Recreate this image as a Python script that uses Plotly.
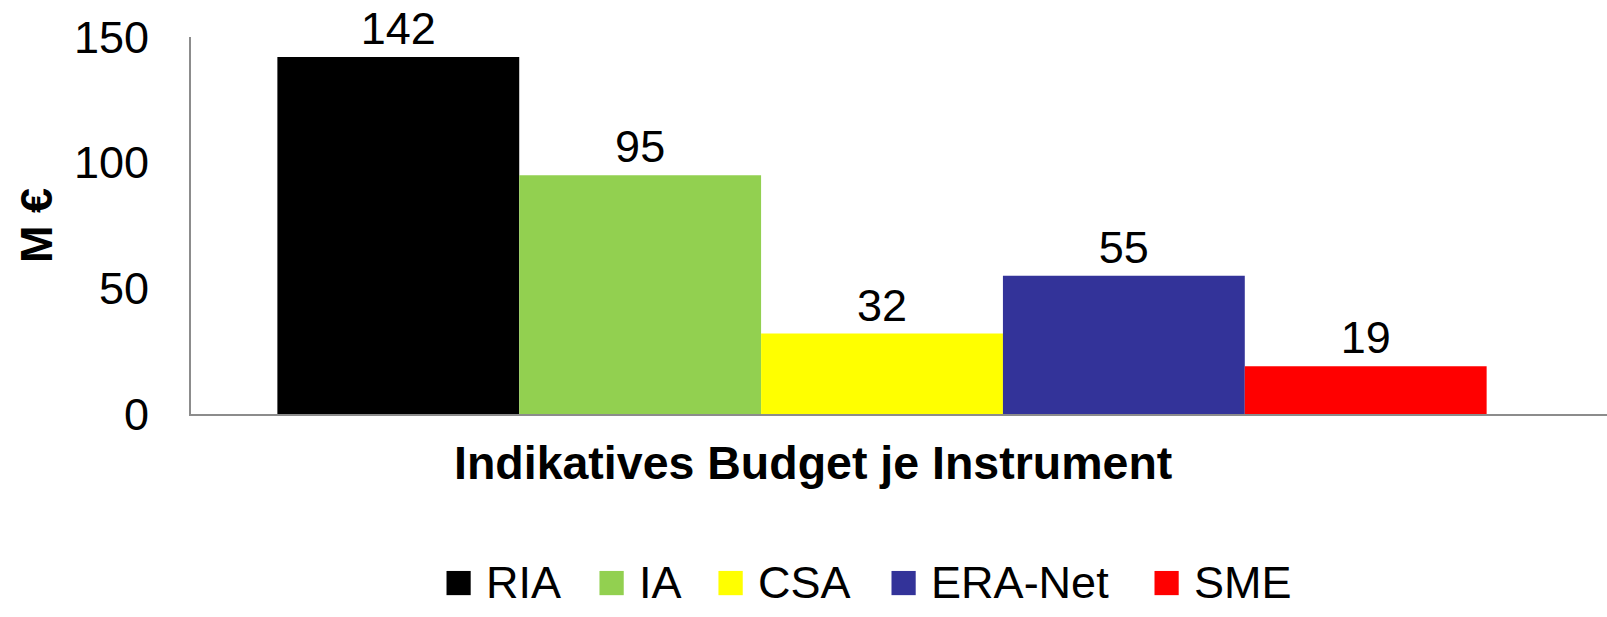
import plotly.graph_objects as go

instruments = ["RIA", "IA", "CSA", "ERA-Net", "SME"]
budgets = [142, 95, 32, 55, 19]
colors = ["#000000", "#92D050", "#FFFF00", "#333399", "#FF0000"]
category = ["Budget"]
x_title = "Indikatives Budget je Instrument"
y_title = "M €"
y_ticks = [0, 50, 100, 150]

FONT = "Liberation Sans, Arial, sans-serif"
FS = 45
# pixel width of each legend entry (layout styling)
legend_entry_px = [108, 74, 128, 218, 140]

fig = go.Figure()
for name, val, col in zip(instruments, budgets, colors):
    fig.add_trace(go.Bar(
        x=category, y=[val], name=name, marker=dict(color=col, line=dict(width=0)),
        text=[val], texttemplate="%{y}", textposition="outside",
        textfont=dict(family=FONT, size=FS, color="#000000"),
        cliponaxis=False, showlegend=False,
    ))
# legend entries with large square glyphs
for name, col, lw in zip(instruments, colors, legend_entry_px):
    fig.add_trace(go.Scatter(
        x=[None], y=[None], mode="markers",
        marker=dict(color="rgba(0,0,0,0)", size=2),
        name=f'<span style="color:{col};font-size:50px">■</span> {name}',
        showlegend=True, legendwidth=lw,
    ))

fig.update_layout(
    width=1607, height=617,
    margin=dict(l=191, r=0, t=37, b=187),
    paper_bgcolor="white", plot_bgcolor="white",
    barmode="group", bargap=0.146, bargroupgap=0,
    font=dict(family=FONT, size=FS, color="#000000"),
    showlegend=True,
    legend=dict(orientation="h", x=0.150, xanchor="left", y=-0.443, yanchor="middle",
                font=dict(family=FONT, size=FS, color="#000000"),
                itemwidth=30, tracegroupgap=0, bgcolor="rgba(0,0,0,0)"),
    xaxis=dict(
        range=[-0.488, 0.512], showticklabels=False, ticks="",
        showline=True, linecolor="#8c8c8c", linewidth=2, showgrid=False, zeroline=False,
    ),
    yaxis=dict(
        range=[0, 150], tickvals=y_ticks, ticks="", ticklabelstandoff=31,
        showline=True, linecolor="#8c8c8c", linewidth=2, showgrid=False, zeroline=False,
        tickfont=dict(family=FONT, size=FS, color="#000000"),
        title=dict(text=f"<b>{y_title}</b>", standoff=7,
                   font=dict(family=FONT, size=FS, color="#000000")),
    ),
    annotations=[dict(
        text=f"<b>{x_title}</b>", xref="paper", yref="paper",
        x=(813 - 191) / 1416, y=-(481 - 430) / 393, xanchor="center", yanchor="middle",
        showarrow=False, font=dict(family=FONT, size=46.5, color="#000000"),
    )],
)

fig.write_html(
    "out.html",
    config={"displayModeBar": False},
    post_script="document.body.style.margin='0';document.body.style.overflow='hidden';",
)
